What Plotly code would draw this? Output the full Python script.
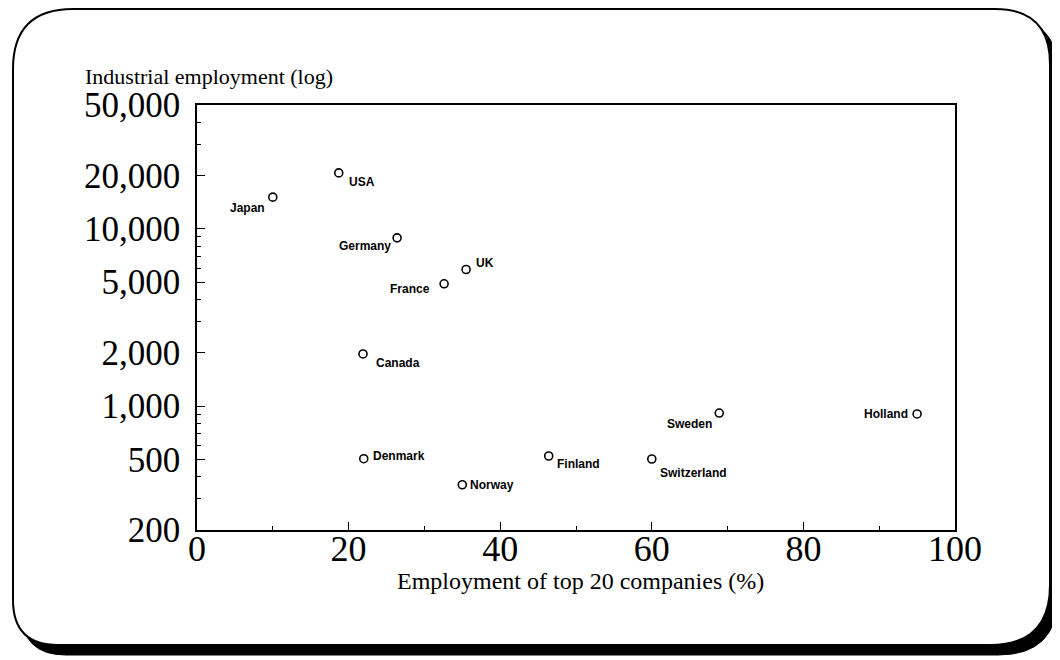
import math

import plotly.graph_objects as go

# data
countries = ["Japan", "USA", "Germany", "UK", "France", "Canada",
             "Denmark", "Norway", "Finland", "Sweden", "Holland", "Switzerland"]
top20_share = [10, 18.7, 26.4, 35.5, 32.6, 21.9, 22.0, 35.0, 46.4, 68.9, 95.0, 60.0]
employment = [15100, 20700, 8900, 5900, 4900, 1970, 505, 360, 523, 914, 903, 503]

y_ticks = [200, 500, 1000, 2000, 5000, 10000, 20000, 50000]
y_ticktext = ["200", "500", "1,000", "2,000", "5,000", "10,000", "20,000", "50,000"]
y_minor = [300, 400, 600, 700, 800, 900, 3000, 4000, 6000, 7000, 8000, 9000,
           30000, 40000]
x_ticks = [0, 20, 40, 60, 80, 100]

# label placement (anchor, x shift px, y shift px)
label_pos = [("right", -6, -11), ("left", 8, -9), ("right", -4, -8), ("left", 8, 7),
             ("right", -12, -5), ("left", 11, -9), ("left", 7, 3), ("left", 6, 0),
             ("left", 6, -8), ("right", -5, -11), ("right", -7, 0), ("left", 6, -14)]

W, H = 1060, 660
OFF = 8  # the page body adds an 8px margin, pull everything back by that
L, R, T, B = 197 - OFF, 105 + OFF, 105 - OFF, 130 + OFF
PW, PH = W - L - R, H - T - B


def px(x, y):
    # screen pixels -> paper fractions
    return (x - OFF - L) / PW, (H - B - (y - OFF)) / PH


def round_box(x0, y0, x1, y1, r_tl, r_tr, r_br, r_bl):
    def p(x, y):
        fx, fy = px(x, y)
        return f"{fx:.5f},{fy:.5f}"

    pts = ["M " + p(x0 + r_tl, y0),
           "L " + p(x1 - r_tr, y0),
           "Q " + p(x1, y0) + " " + p(x1, y0 + r_tr),
           "L " + p(x1, y1 - r_br),
           "Q " + p(x1, y1) + " " + p(x1 - r_br, y1),
           "L " + p(x0 + r_bl, y1),
           "Q " + p(x0, y1) + " " + p(x0, y1 - r_bl),
           "L " + p(x0, y0 + r_tl),
           "Q " + p(x0, y0) + " " + p(x0 + r_tl, y0)]
    return " ".join(pts) + " Z"


fig = go.Figure()

fig.add_trace(go.Scatter(
    x=top20_share,
    y=employment,
    mode="markers",
    marker=dict(symbol="circle-open", size=8, color="black", line=dict(width=1.6)),
    showlegend=False,
    hoverinfo="text",
    text=countries,
))

for name, xv, yv, (anchor, dx, dy) in zip(countries, top20_share, employment, label_pos):
    fig.add_annotation(
        x=xv, y=math.log10(yv), text=f"<b>{name}</b>", showarrow=False,
        xanchor=anchor, yanchor="middle", xshift=dx, yshift=dy,
        font=dict(family="Liberation Sans Narrow, Liberation Sans", size=12, color="black"),
    )

# frame with drop shadow
fig.add_shape(type="path", xref="paper", yref="paper", layer="below",
              path=round_box(21, 18, 1058, 655, 60, 55, 60, 45),
              fillcolor="black", line=dict(color="black", width=1))
fig.add_shape(type="path", xref="paper", yref="paper", layer="below",
              path=round_box(13, 9, 1050, 645, 60, 55, 60, 45),
              fillcolor="white", line=dict(color="black", width=2))

fig.add_annotation(
    x=px(83, 76)[0], y=px(83, 76)[1], xref="paper", yref="paper",
    text="Industrial employment (log)", showarrow=False,
    xanchor="left", yanchor="middle",
    font=dict(family="Liberation Serif", size=22, color="black"),
)
fig.add_annotation(
    x=px(580, 581)[0], y=px(580, 581)[1], xref="paper", yref="paper",
    text="Employment of top 20 companies (%)", showarrow=False,
    xanchor="center", yanchor="middle",
    font=dict(family="Liberation Serif", size=24, color="black"),
)

fig.update_layout(
    width=W, height=H,
    margin=dict(l=L, r=R, t=T, b=B),
    paper_bgcolor="white",
    plot_bgcolor="rgba(0,0,0,0)",
    xaxis=dict(
        range=[0, 100],
        tickvals=x_ticks,
        ticks="inside", ticklen=8, tickwidth=1.2, tickcolor="black",
        minor=dict(dtick=10, ticks="inside", ticklen=4, tickwidth=1, tickcolor="black", showgrid=False),
        showgrid=False, zeroline=False,
        showline=True, linecolor="black", linewidth=1.5, mirror=True,
        tickfont=dict(family="Liberation Serif", size=36, color="black"),
        ticklabelstandoff=-14,
    ),
    yaxis=dict(
        type="log",
        range=[math.log10(200), math.log10(50000)],
        tickvals=y_ticks, ticktext=y_ticktext,
        ticks="inside", ticklen=8, tickwidth=1.2, tickcolor="black",
        minor=dict(tickvals=y_minor, ticks="inside", ticklen=4, tickwidth=1, tickcolor="black", showgrid=False),
        showgrid=False, zeroline=False,
        showline=True, linecolor="black", linewidth=1.5, mirror=True,
        tickfont=dict(family="Liberation Serif", size=35, color="black"),
        ticklabelstandoff=8,
    ),
)

fig.write_html("out.html")
